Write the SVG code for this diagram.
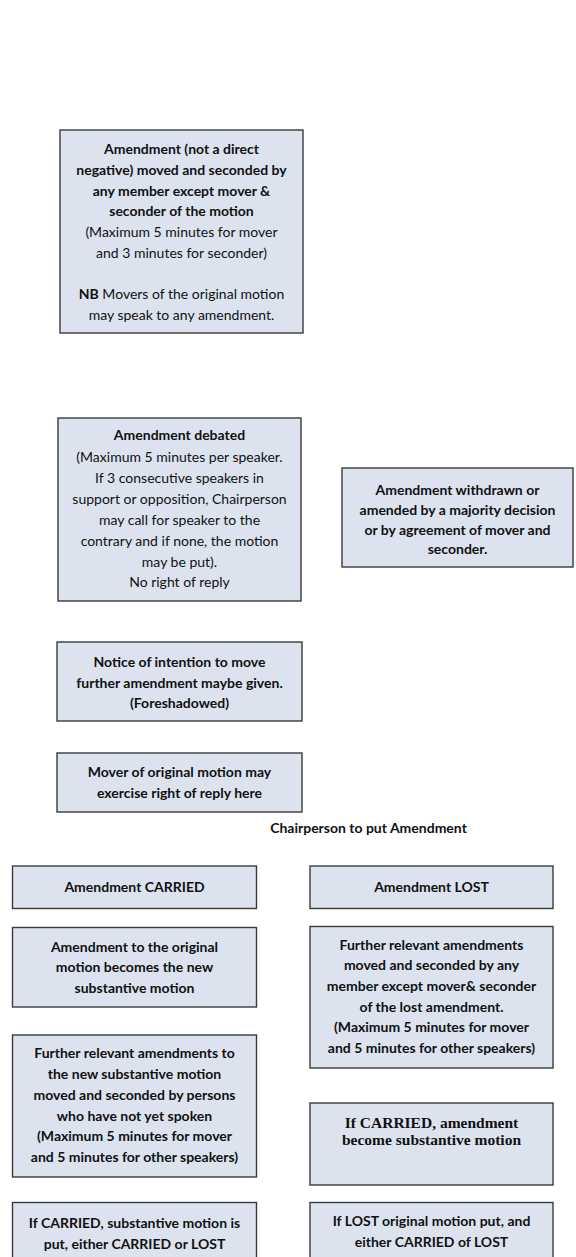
<svg xmlns="http://www.w3.org/2000/svg" width="576" height="1257" viewBox="0 0 576 1257">
<style>
.box{fill:#dce3ef;stroke:#3a3a3a;stroke-width:1.4}
.t{font-family:Lato,"Open Sans","Liberation Sans",sans-serif;font-size:14px;fill:#111;text-anchor:middle}
.b{font-weight:bold}
.s{font-family:"Liberation Serif","DejaVu Serif",serif;font-size:15.5px;font-weight:bold;fill:#111;text-anchor:middle}
</style>
<rect width="576" height="1257" fill="#fff"/>
<g id="n1">
<rect class="box" x="60" y="130" width="243" height="203"/>
<text class="t b" x="181.5" y="153.5">Amendment (not a direct</text>
<text class="t b" x="181.5" y="174.5">negative) moved and seconded by</text>
<text class="t b" x="181.5" y="195.5">any member except mover &amp;</text>
<text class="t b" x="181.5" y="216">seconder of the motion</text>
<text class="t" x="181.5" y="236.5">(Maximum 5 minutes for mover</text>
<text class="t" x="181.5" y="257.5">and 3 minutes for seconder)</text>
<text class="t" x="181.5" y="299"><tspan class="b">NB</tspan> Movers of the original motion</text>
<text class="t" x="181.5" y="319.5">may speak to any amendment.</text>
</g>
<g id="n2">
<rect class="box" x="58" y="418" width="243" height="183"/>
<text class="t b" x="179.5" y="440">Amendment debated</text>
<text class="t" x="179.5" y="461.5">(Maximum 5 minutes per speaker.</text>
<text class="t" x="179.5" y="483">If 3 consecutive speakers in</text>
<text class="t" x="179.5" y="504">support or opposition, Chairperson</text>
<text class="t" x="179.5" y="525">may call for speaker to the</text>
<text class="t" x="179.5" y="545.5">contrary and if none, the motion</text>
<text class="t" x="179.5" y="566.5">may be put).</text>
<text class="t" x="179.5" y="586.5">No right of reply</text>
</g>
<g id="n3">
<rect class="box" x="342" y="468" width="231" height="99"/>
<text class="t b" x="457.5" y="495">Amendment withdrawn or</text>
<text class="t b" x="457.5" y="515">amended by a majority decision</text>
<text class="t b" x="457.5" y="535">or by agreement of mover and</text>
<text class="t b" x="457.5" y="554">seconder.</text>
</g>
<g id="n4">
<rect class="box" x="57" y="642" width="245" height="79"/>
<text class="t b" x="179.5" y="666.5">Notice of intention to move</text>
<text class="t b" x="179.5" y="688">further amendment maybe given.</text>
<text class="t b" x="179.5" y="707.5">(Foreshadowed)</text>
</g>
<g id="n5">
<rect class="box" x="57" y="753" width="245" height="59"/>
<text class="t b" x="179.5" y="776.5">Mover of original motion may</text>
<text class="t b" x="179.5" y="797.5">exercise right of reply here</text>
</g>
<g id="n6">
<text class="t b" x="368.5" y="832.5">Chairperson to put Amendment</text>
</g>
<g id="n7">
<rect class="box" x="12.5" y="866" width="244" height="42.5"/>
<text class="t b" x="134.5" y="892">Amendment CARRIED</text>
</g>
<g id="n8">
<rect class="box" x="310" y="866" width="243" height="42.5"/>
<text class="t b" x="431.5" y="892">Amendment LOST</text>
</g>
<g id="n9">
<rect class="box" x="12.5" y="927.5" width="244" height="79.5"/>
<text class="t b" x="134.5" y="951.5">Amendment to the original</text>
<text class="t b" x="134.5" y="972">motion becomes the new</text>
<text class="t b" x="134.5" y="992.5">substantive motion</text>
</g>
<g id="n10">
<rect class="box" x="12.5" y="1035" width="244" height="142"/>
<text class="t b" x="134.5" y="1058">Further relevant amendments to</text>
<text class="t b" x="134.5" y="1078.5">the new substantive motion</text>
<text class="t b" x="134.5" y="1099.5">moved and seconded by persons</text>
<text class="t b" x="134.5" y="1120.5">who have not yet spoken</text>
<text class="t b" x="134.5" y="1141">(Maximum 5 minutes for mover</text>
<text class="t b" x="134.5" y="1161.5">and 5 minutes for other speakers)</text>
</g>
<g id="n11">
<rect class="box" x="310" y="926.5" width="243" height="141.5"/>
<text class="t b" x="431.5" y="949.5">Further relevant amendments</text>
<text class="t b" x="431.5" y="970">moved and seconded by any</text>
<text class="t b" x="431.5" y="991">member except mover&amp; seconder</text>
<text class="t b" x="431.5" y="1011.5">of the lost amendment.</text>
<text class="t b" x="431.5" y="1031.5">(Maximum 5 minutes for mover</text>
<text class="t b" x="431.5" y="1052.5">and 5 minutes for other speakers)</text>
</g>
<g id="n12">
<rect class="box" x="310" y="1103" width="243" height="82"/>
<text class="s" x="431.5" y="1127.5">If CARRIED, amendment</text>
<text class="s" x="431.5" y="1144.5">become substantive motion</text>
</g>
<g id="n13">
<rect class="box" x="12.5" y="1202.5" width="244" height="70"/>
<text class="t b" x="134.5" y="1227.5">If CARRIED, substantive motion is</text>
<text class="t b" x="134.5" y="1248.5">put, either CARRIED or LOST</text>
</g>
<g id="n14">
<rect class="box" x="310" y="1202.5" width="243" height="70"/>
<text class="t b" x="431.5" y="1225.5">If LOST original motion put, and</text>
<text class="t b" x="431.5" y="1246.5">either CARRIED of LOST</text>
</g>
<g id="connectors"></g>
</svg>
